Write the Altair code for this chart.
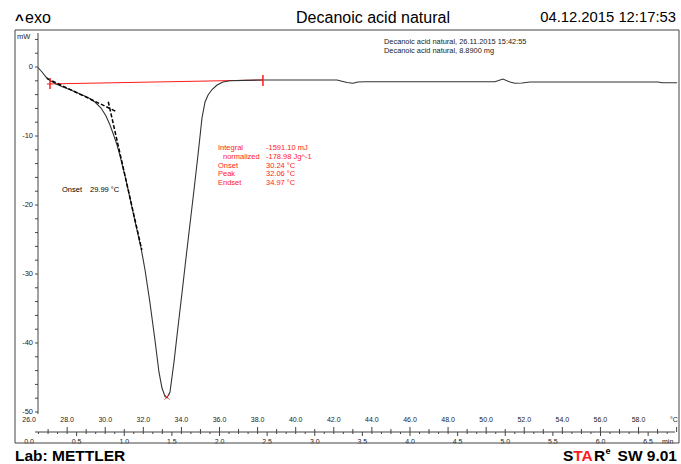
import altair as alt
import pandas as pd

# DSC heat-flow curve: reference temperature (°C) against heat flow (mW)
temp_c = [26.47, 26.68, 26.89, 27.10, 27.42, 27.78, 28.26, 28.68, 29.10, 29.46,
          29.78, 30.04, 30.25, 30.46, 30.62, 30.78, 31.04, 31.30, 31.56, 31.88,
          32.09, 32.35, 32.61, 32.82, 32.98, 33.14, 33.24,
          33.40, 33.61, 33.82, 34.03, 34.24, 34.45, 34.66, 34.87, 35.08, 35.24,
          35.40, 35.61, 35.87, 36.18, 36.55, 37.34, 38.28,
          40.23, 42.17, 42.69, 43.01, 43.27, 43.64, 50.46, 50.88, 51.25, 51.51,
          51.88, 52.30, 59.02, 59.23, 60.02]
heat_mw = [-0.07, -0.72, -1.45, -1.96, -2.46, -2.90, -3.41, -3.91, -4.42, -5.07,
           -5.94, -7.10, -8.41, -10.00, -11.30, -12.90, -15.80, -18.99, -22.32, -26.23,
           -29.42, -34.20, -39.57, -44.20, -46.52, -47.75, -47.97,
           -47.10, -42.75, -37.68, -32.75, -27.68, -22.75, -17.83, -12.75, -7.39, -5.07,
           -4.06, -3.26, -2.61, -2.17, -2.00, -1.93, -1.88,
           -1.88, -1.88, -2.25, -2.36, -2.17, -2.13, -2.13, -1.74, -2.17, -2.36,
           -2.32, -2.17, -2.17, -2.28, -2.28]

# onset construction: pre-transition tangent and inflection tangent
tangent_id = ["pre", "pre", "infl", "infl"]
tangent_t = [26.93, 30.60, 30.16, 31.92]
tangent_mw = [-1.64, -6.48, -5.03, -26.52]

# integration baseline and its limits
baseline_t = [26.94, 38.28]
baseline_mw = [-2.46, -1.88]
limit_t = [27.10, 38.28]
limit_top = [-1.59, -1.16]
limit_bottom = [-3.19, -2.75]

# peak marker
peak_t = [33.24]
peak_mw = [-47.83]

# axis ticks and labels
y_ticks = list(range(-50, 6, 2))
y_labels = [-50, -40, -30, -20, -10, 0]
y_span = [4.93, -50.3]
temp_ticks = list(range(27, 61))
temp_labels = [26 + 2 * i for i in range(17)]
time_ticks = [round(0.1 * i, 1) for i in range(1, 68)]
time_labels = [round(0.5 * i, 1) for i in range(14)]

W, H = 639, 399
FONT = "Liberation Sans"
RED = "#ff1a1a"
INK = "#222222"
AXIS = "#444444"

x_scale = alt.Scale(domain=[26.47, 60.02], nice=False, zero=False)
y_scale = alt.Scale(domain=[-52.9, 4.93], nice=False, zero=False)
t_scale = alt.Scale(domain=[0.0945, 6.803], nice=False, zero=False)

curve_df = pd.DataFrame({"T": temp_c, "mW": heat_mw, "i": range(len(temp_c))})
tan_df = pd.DataFrame({"seg": tangent_id, "T": tangent_t, "mW": tangent_mw})
base_df = pd.DataFrame({"T": baseline_t, "mW": baseline_mw})
lim_df = pd.DataFrame({"T": limit_t, "top": limit_top, "bottom": limit_bottom})
peak_df = pd.DataFrame({"T": peak_t, "mW": peak_mw})


def X(f):
    return alt.X(f, type="quantitative", scale=x_scale, axis=None)


def Y(f):
    return alt.Y(f, type="quantitative", scale=y_scale, axis=None)


baseline = alt.Chart(base_df).mark_line(color=RED, strokeWidth=1).encode(
    x=X("T"), y=Y("mW"))

curve = alt.Chart(curve_df).mark_line(color="#333333", strokeWidth=1.1, clip=True).encode(
    x=X("T"), y=Y("mW"), order="i:Q")

tangents = alt.Chart(tan_df).mark_line(
    color="black", strokeWidth=1.5, strokeDash=[4, 2]).encode(
    x=X("T"), y=Y("mW"), detail="seg:N")

limits = alt.Chart(lim_df).mark_rule(color=RED, strokeWidth=1.5).encode(
    x=X("T"), y=Y("top"), y2="bottom:Q")

peak = alt.Chart(peak_df).mark_point(
    shape="M-1,-1L1,1M-1,1L1,-1", size=30, color=RED, strokeWidth=1, filled=False
).encode(x=X("T"), y=Y("mW"))

# left heat-flow axis: line, ticks every 2 mW, labels every 10 mW
y_line = alt.Chart(pd.DataFrame({"top": [y_span[0]], "bottom": [y_span[1]]})).mark_rule(
    color=AXIS).encode(x=alt.value(0), y=Y("top"), y2="bottom:Q")
y_tick = alt.Chart(pd.DataFrame({"v": y_ticks})).mark_rule(color=AXIS).encode(
    x=alt.value(-3), x2=alt.value(0), y=Y("v"))
y_text = alt.Chart(pd.DataFrame({"v": y_labels, "txt": [str(v) for v in y_labels]})).mark_text(
    font=FONT, fontSize=7.5, align="right", baseline="middle").encode(
    x=alt.value(-5), y=Y("v"), text="txt:N", color=alt.value(INK))

# bottom temperature axis: line, ticks, labels
axis_line = alt.Chart(pd.DataFrame({"a": [0]})).mark_rule(color=AXIS).encode(
    x=alt.value(-3), x2=alt.value(W - 2), y=alt.value(H))

temp_tick_df = pd.DataFrame({"T": temp_ticks, "major": [t % 2 == 0 for t in temp_ticks]})
temp_tick_major = alt.Chart(temp_tick_df).transform_filter("datum.major").mark_rule(
    color=AXIS).encode(x=X("T"), y=alt.value(H - 5), y2=alt.value(H))
temp_tick_minor = alt.Chart(temp_tick_df).transform_filter("!datum.major").mark_rule(
    color=AXIS).encode(x=X("T"), y=alt.value(H - 3), y2=alt.value(H))

temp_lab_df = pd.DataFrame({"T": temp_labels, "txt": [f"{v:.1f}" for v in temp_labels]})
temp_text = alt.Chart(temp_lab_df).mark_text(
    font=FONT, fontSize=7, baseline="middle").encode(
    x=X("T"), y=alt.value(H - 12), text="txt:N", color=alt.value(INK))

main = alt.layer(baseline, curve, tangents, limits, peak, y_line, y_tick, y_text,
                 axis_line, temp_tick_major, temp_tick_minor, temp_text)

# time axis (min) sharing the same bottom line
time_tick_df = pd.DataFrame({"t": time_ticks,
                             "major": [abs(v * 2 - round(v * 2)) < 1e-6 for v in time_ticks]})
time_tick_major = alt.Chart(time_tick_df).transform_filter("datum.major").mark_rule(
    color=AXIS).encode(x=alt.X("t:Q", scale=t_scale, axis=None),
                       y=alt.value(H), y2=alt.value(H + 4))
time_tick_minor = alt.Chart(time_tick_df).transform_filter("!datum.major").mark_rule(
    color=AXIS).encode(x=alt.X("t:Q", scale=t_scale, axis=None),
                       y=alt.value(H), y2=alt.value(H + 2))
time_lab_df = pd.DataFrame({"t": time_labels, "txt": [f"{v:.1f}" for v in time_labels]})
time_text = alt.Chart(time_lab_df).mark_text(
    font=FONT, fontSize=7, baseline="middle").encode(
    x=alt.X("t:Q", scale=t_scale, axis=None), y=alt.value(H + 10), text="txt:N",
    color=alt.value(INK))
time_layer = alt.layer(time_tick_major, time_tick_minor, time_text)


def label(txt, x, y, size=7.5, color=INK, align="left", weight="normal"):
    return alt.Chart(pd.DataFrame({"s": [txt]})).mark_text(
        font=FONT, fontSize=size, align=align, baseline="middle",
        fontWeight=weight).encode(x=alt.value(x), y=alt.value(y), text="s:N",
                                  color=alt.value(color))


annotations = [
    label("mW", -21, 4),
    label("°C", 632, H - 12, size=7),
    label("min", 624, H + 10, size=7),
    label("Decanoic acid natural, 26.11.2015 15:42:55", 346, 9, size=7.4),
    label("Decanoic acid natural, 8.8900 mg", 346, 18, size=7.4),
    label("Integral", 180, 115, color=RED),
    label("normalized", 185, 124, color=RED),
    label("Onset", 180, 133, color=RED),
    label("Peak", 180, 141, color=RED),
    label("Endset", 180, 150, color=RED),
    label("-1591.10 mJ", 228, 115, color=RED),
    label("-178.98 Jg^-1", 228, 124, color=RED),
    label("30.24 °C", 228, 133, color=RED),
    label("32.06 °C", 228, 141, color=RED),
    label("34.97 °C", 228, 150, color=RED),
    label("Onset", 24, 157, color="black"),
    label("29.99 °C", 52, 157, color="black"),
]

# clip the time labels at the frame bottom, then draw the frame
clip_band = alt.Chart(pd.DataFrame({"a": [0]})).mark_rect(color="white").encode(
    x=alt.value(-24), x2=alt.value(642), y=alt.value(410.5), y2=alt.value(416))
frame = alt.Chart(pd.DataFrame({"a": [0]})).mark_rect(
    fill=None, stroke=AXIS, strokeWidth=1).encode(
    x=alt.value(-23), x2=alt.value(641), y=alt.value(-3), y2=alt.value(410))

header = [
    label("^", -23, -13, size=15, weight="bold", color="black"),
    label("exo", -13, -15, size=16, color="black"),
    label("Decanoic acid natural", 335, -15, size=16, align="center", color="black"),
    label("04.12.2015 12:17:53", 638, -15, size=14.8, align="right", color="black"),
    label("Lab: METTLER", -23, 423, size=15.5, weight="bold", color="black"),
    label("S", 525, 423, size=15.5, weight="bold", color="black"),
    label("TA", 535.3, 423, size=15.5, weight="bold", color=RED),
    label("R", 556, 423, size=15.5, weight="bold", color="black"),
    label("e", 567.5, 418, size=9, weight="bold", color="black"),
    label("SW 9.01", 639, 423, size=15.5, weight="bold", color="black", align="right"),
]

chart = alt.layer(
    alt.layer(main, time_layer).resolve_scale(x="independent"),
    *annotations, clip_band, frame, *header,
).properties(
    width=W, height=H,
    padding={"left": 38, "top": 33, "right": 4, "bottom": 32},
    autosize=alt.AutoSizeParams(type="none"),
).configure_view(stroke=None)

chart.save("out.html", embed_options={"renderer": "svg", "actions": False})
